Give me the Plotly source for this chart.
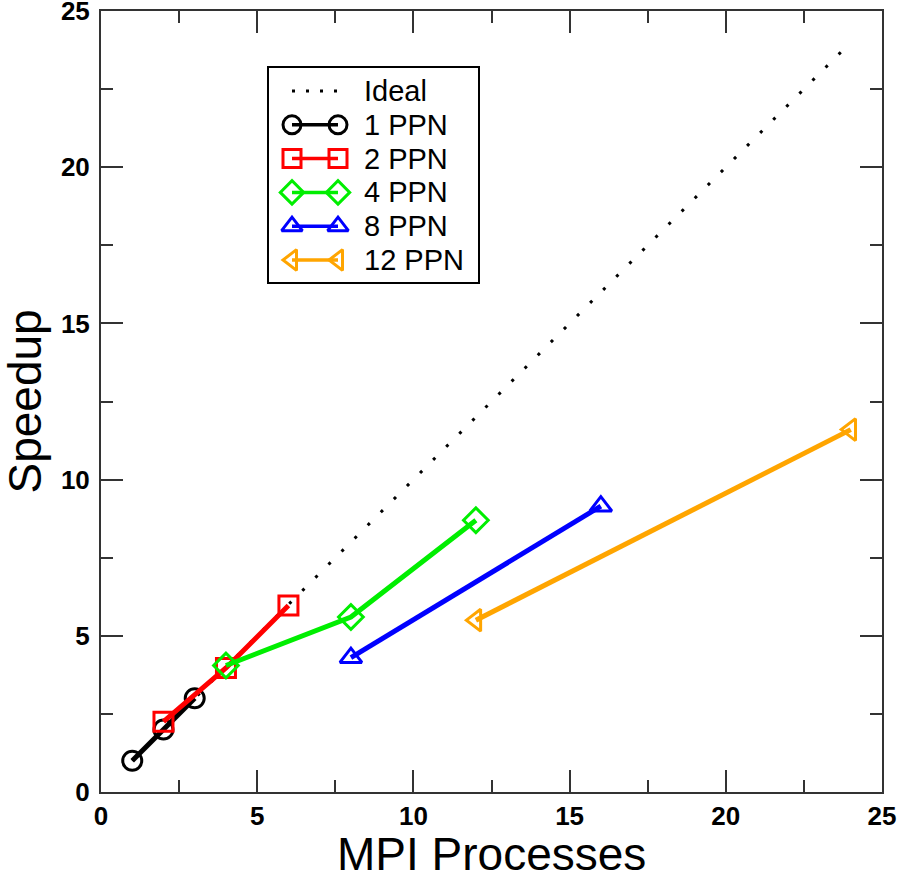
import plotly.graph_objects as go

# ---- data ----
ideal_x = [1, 24]
ideal_y = [1, 24]

ppn1_x = [1, 2, 3]
ppn1_y = [1.0, 2.0, 3.0]
ppn2_x = [2, 4, 6]
ppn2_y = [2.25, 3.97, 5.97]
ppn4_x = [4, 8, 12]
ppn4_y = [4.05, 5.6, 8.7]
ppn8_x = [8, 16]
ppn8_y = [4.3, 9.15]
ppn12_x = [12, 24]
ppn12_y = [5.5, 11.6]

tick_vals = [0, 5, 10, 15, 20, 25]
series_names = ["1 PPN", "2 PPN", "4 PPN", "8 PPN", "12 PPN"]
series_colors = ["black", "red", "#00ee00", "blue", "orange"]
series_symbols = ["circle-open", "square-open", "diamond-open", "triangle-up-open", "triangle-left-open"]
series_x = [ppn1_x, ppn2_x, ppn4_x, ppn8_x, ppn12_x]
series_y = [ppn1_y, ppn2_y, ppn4_y, ppn8_y, ppn12_y]

# ---- layout geometry (page pixels) ----
W, H = 900, 875
L, R, T, B = 101, 882, 11, 792
PW, PH = R - L, B - T

def px(x):
    return (x - L) / PW

def py(y):
    return (B - y) / PH

FONT = "Liberation Sans"

fig = go.Figure()
fig.add_trace(go.Scatter(x=ideal_x, y=ideal_y, mode="lines", name="Ideal", showlegend=False,
                         line=dict(color="black", width=3, dash="3px,15.5px")))

for name, xs, ys, col, sym in zip(series_names, series_x, series_y, series_colors, series_symbols):
    fig.add_trace(go.Scatter(x=xs, y=ys, mode="lines+markers", name=name, showlegend=False,
                             line=dict(color=col, width=5),
                             marker=dict(symbol=sym, size=19, color=col,
                                         line=dict(color=col, width=3))))

# ---- custom legend (xmgrace style, marker at both ends of the sample) ----
shapes = []
annotations = []
box = dict(x0=px(268), x1=px(479), y0=py(283), y1=py(67))
shapes.append(dict(type="rect", xref="paper", yref="paper", **box,
                   line=dict(color="black", width=2), fillcolor="white", layer="below"))
row_top, row_step = 91, 33.8
s_x0, s_x1 = 292, 338
text_x = 362
leg_names = ["Ideal"] + series_names
for i, nm in enumerate(leg_names):
    yy = py(row_top + i * row_step)
    annotations.append(dict(x=px(text_x), y=yy, xref="paper", yref="paper", text=nm,
                            showarrow=False, xanchor="left", yanchor="middle",
                            font=dict(family=FONT, size=29, color="black")))
    if i == 0:
        shapes.append(dict(type="line", xref="paper", yref="paper", x0=px(s_x0), x1=px(s_x1),
                           y0=yy, y1=yy, line=dict(color="black", width=3, dash="3px,11px"),
                           layer="below"))
    else:
        col = series_colors[i - 1]
        shapes.append(dict(type="line", xref="paper", yref="paper", x0=px(s_x0), x1=px(s_x1),
                           y0=yy, y1=yy, line=dict(color=col, width=3.5), layer="below"))
        fig.add_trace(go.Scatter(x=[px(s_x0), px(s_x1)], y=[yy, yy], xaxis="x2", yaxis="y2",
                                 mode="markers", showlegend=False, hoverinfo="skip",
                                 marker=dict(symbol=series_symbols[i - 1], size=18, color=col,
                                             line=dict(color=col, width=3))))

annotations.append(dict(x=0.5, y=py(854), xref="paper", yref="paper", text="MPI Processes",
                        showarrow=False, xanchor="center", yanchor="middle",
                        font=dict(family=FONT, size=46, color="black")))
annotations.append(dict(x=px(24), y=0.5, xref="paper", yref="paper", text="Speedup",
                        showarrow=False, xanchor="center", yanchor="middle", textangle=-90,
                        font=dict(family=FONT, size=46, color="black")))

axis_common = dict(
    range=[0, 25], tickvals=tick_vals, ticks="inside", ticklen=22, tickwidth=2,
    tickcolor="#333", showline=True, linecolor="#333", linewidth=2, mirror="allticks",
    showgrid=False, zeroline=False, automargin=False, ticklabeloverflow="allow",
    tickfont=dict(family=FONT, size=26, color="black", weight="bold"),
    minor=dict(dtick=2.5, ticks="inside", ticklen=12, tickwidth=2, tickcolor="#333", showgrid=False),
)

fig.update_layout(
    width=W, height=H,
    margin=dict(l=L, r=W - R, t=T, b=H - B),
    plot_bgcolor="white", paper_bgcolor="white",
    xaxis=dict(**axis_common),
    yaxis=dict(**axis_common, ticklabelstandoff=4),
    xaxis2=dict(range=[0, 1], overlaying="x", visible=False, fixedrange=True),
    yaxis2=dict(range=[0, 1], overlaying="y", visible=False, fixedrange=True),
    shapes=shapes,
    annotations=annotations,
    showlegend=False,
)

fig.write_html("out.html", config={"displayModeBar": False},
               post_script="document.body.style.margin='0px';")
